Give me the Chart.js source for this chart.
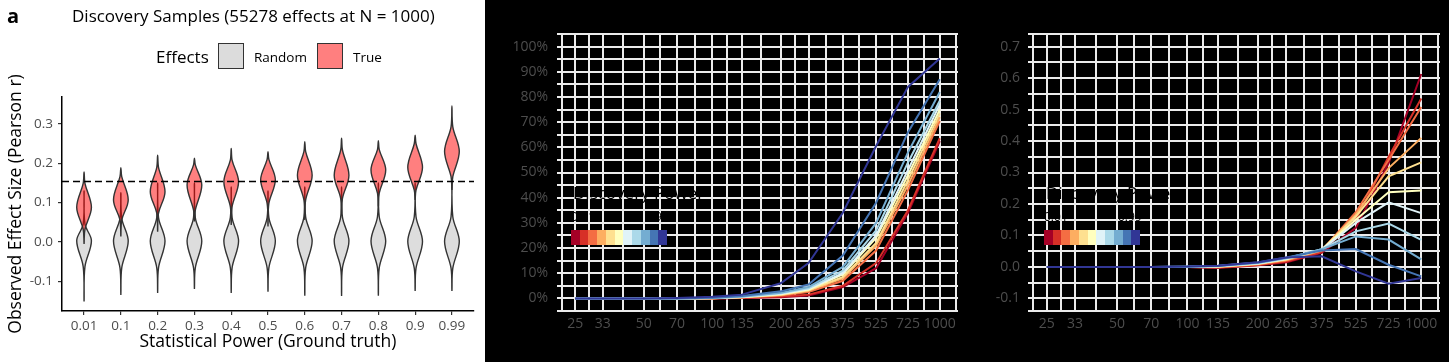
<!DOCTYPE html>
<html>
<head>
<meta charset="utf-8">
<script src="https://cdn.jsdelivr.net/npm/chart.js@4.4.0/dist/chart.umd.min.js"></script>
<style>
  body { margin: 0; width: 1449px; height: 362px; background: #000; position: relative; overflow: hidden;
         font-family: 'Open Sans', 'Noto Sans', sans-serif; }
  .panel { position: absolute; top: 0; height: 362px; }
  .txt { position: absolute; line-height: 1; white-space: nowrap; color: #000; }
  .swatch { position: absolute; box-sizing: border-box; border: 1.5px solid #333; width: 26px; height: 26px; top: 43px; }
  .bar { position: absolute; display: flex; height: 15px; top: 230px; width: 96px; }
  .bar span { flex: 1; }
</style>
</head>
<body>
<div class="panel" style="left:0;width:485px;background:#fff">
  <canvas id="violinChart" width="485" height="362"></canvas>
</div>
<div class="panel" style="left:485px;width:490px">
  <canvas id="powerChart" width="490" height="362"></canvas>
</div>
<div class="panel" style="left:975px;width:474px">
  <canvas id="effectChart" width="474" height="362"></canvas>
</div>

<div class="txt" style="left:7px;top:6px;font-size:20px;font-weight:bold">a</div>
<div class="txt" style="left:72px;top:7px;font-size:17px">Discovery Samples (55278 effects at N = 1000)</div>
<div class="txt" style="left:156px;top:48px;font-size:17px">Effects</div>
<div class="swatch" style="left:218px;background:#DCDCDC"></div>
<div class="txt" style="left:254px;top:51px;font-size:13.5px">Random</div>
<div class="swatch" style="left:317px;background:#FF7F7F"></div>
<div class="txt" style="left:353px;top:51px;font-size:13.5px">True</div>

<script>
// ---- data ----
const powerLevels = ['0.01', '0.1', '0.2', '0.3', '0.4', '0.5', '0.6', '0.7', '0.8', '0.9', '0.99'];
const powerColors = ['#A50026', '#D73027', '#F46D43', '#FDAE61', '#FEE090', '#FFFFBF',
                     '#E0F3F8', '#ABD9E9', '#74ADD1', '#4575B4', '#313695'];
const sampleSizes = [25, 33, 50, 70, 100, 135, 200, 265, 375, 525, 725, 1000];
const percentTicks = [0, 10, 20, 30, 40, 50, 60, 70, 80, 90, 100];
const effectTicks = [-0.1, 0, 0.1, 0.2, 0.3, 0.4, 0.5, 0.6, 0.7];
const violinTicks = [-0.1, 0, 0.1, 0.2, 0.3];
const threshold = 0.154;

// violins: true effects (red)
const trueMin  = [-0.005, 0.014, 0.026, 0.052, 0.043, 0.039, 0.056, 0.073, 0.090, 0.107, 0.132];
const trueLow  = [0.032, 0.056, 0.073, 0.081, 0.090, 0.098, 0.107, 0.111, 0.124, 0.132, 0.166];
const trueMode = [0.088, 0.107, 0.128, 0.145, 0.153, 0.158, 0.170, 0.170, 0.183, 0.190, 0.230];
const trueHigh = [0.149, 0.166, 0.190, 0.196, 0.208, 0.210, 0.230, 0.234, 0.235, 0.250, 0.293];
const trueMax  = [0.178, 0.189, 0.221, 0.213, 0.238, 0.230, 0.255, 0.264, 0.258, 0.272, 0.346];
// violins: random effects (grey)
const randMin  = [-0.152, -0.135, -0.130, -0.120, -0.130, -0.127, -0.137, -0.138, -0.137, -0.125, -0.125];
const randLow  = [-0.063, -0.066, -0.066, -0.066, -0.066, -0.066, -0.066, -0.066, -0.066, -0.067, -0.067];
const randMode = [0.003, 0.002, 0.002, 0.002, 0.002, 0.002, 0.002, 0.002, 0.002, 0.001, 0.001];
const randHigh = [0.045, 0.060, 0.062, 0.062, 0.062, 0.062, 0.063, 0.063, 0.064, 0.064, 0.064];
const randMax  = [0.130, 0.125, 0.150, 0.150, 0.140, 0.130, 0.140, 0.140, 0.150, 0.150, 0.160];

// replication rate (%) by discovery sample size, one array per power level
const rep001 = [0, 0, 0, 0, 0, 0.2, 0.5, 1.2, 4.5, 12, 34, 62.5];
const rep01  = [0, 0, 0, 0, 0, 0.3, 0.8, 1.5, 5, 14, 35, 63.6];
const rep02  = [0, 0, 0, 0, 0.1, 0.4, 1.2, 2.5, 7, 19, 43, 70.5];
const rep03  = [0, 0, 0, 0, 0.1, 0.5, 1.4, 3, 8, 21, 45, 72];
const rep04  = [0, 0, 0, 0, 0.1, 0.5, 1.5, 3.2, 8.5, 22, 47, 73.5];
const rep05  = [0, 0, 0, 0, 0.1, 0.6, 1.7, 3.5, 9.5, 24, 49, 75];
const rep06  = [0, 0, 0, 0, 0.2, 0.6, 1.8, 3.8, 10, 25, 51, 77];
const rep07  = [0, 0, 0, 0, 0.2, 0.7, 2, 4, 11, 27, 54, 78.5];
const rep08  = [0, 0, 0, 0, 0.2, 0.8, 2.2, 4.5, 12.5, 30, 58, 82];
const rep09  = [0, 0, 0, 0, 0.3, 1, 2.8, 5.5, 17, 38, 66, 87];
const rep099 = [0, 0, 0, 0.2, 0.7, 1.5, 6, 14, 34, 60.5, 84, 95.3];
const replicationRates = [rep001, rep01, rep02, rep03, rep04, rep05, rep06, rep07, rep08, rep09, rep099];

// effect size difference by discovery sample size
const eff001 = [0, 0, 0, 0, 0, -0.003, 0.005, 0.015, 0.045, 0.124, 0.33, 0.613];
const eff01  = [0, 0, 0, 0, 0, -0.002, 0.006, 0.017, 0.047, 0.150, 0.35, 0.535];
const eff02  = [0, 0, 0, 0, 0, -0.001, 0.008, 0.020, 0.052, 0.174, 0.34, 0.508];
const eff03  = [0, 0, 0, 0, 0, 0, 0.009, 0.022, 0.053, 0.166, 0.314, 0.41];
const eff04  = [0, 0, 0, 0, 0, 0.001, 0.010, 0.024, 0.054, 0.160, 0.288, 0.332];
const eff05  = [0, 0, 0, 0, 0, 0.001, 0.011, 0.025, 0.055, 0.150, 0.237, 0.243];
const eff06  = [0, 0, 0, 0, 0, 0.002, 0.011, 0.026, 0.055, 0.140, 0.205, 0.171];
const eff07  = [0, 0, 0, 0, 0, 0.002, 0.012, 0.027, 0.056, 0.113, 0.138, 0.086];
const eff08  = [0, 0, 0, 0, 0.001, 0.003, 0.013, 0.028, 0.056, 0.097, 0.087, 0.024];
const eff09  = [0, 0, 0, 0, 0.001, 0.004, 0.014, 0.030, 0.052, 0.057, 0.007, -0.030];
const eff099 = [0, 0, 0, 0, 0.001, 0.004, 0.015, 0.030, 0.034, -0.014, -0.053, -0.035];
const effectDiffs = [eff001, eff01, eff02, eff03, eff04, eff05, eff06, eff07, eff08, eff09, eff099];

// ---- shared style ----
Chart.defaults.font.family = "'Open Sans', 'Noto Sans', sans-serif";
const GRID = '#EBEBEB';
const TICK_GREY = '#4D4D4D';
const VIOLIN_HALF = 0.2;   // widest half-width in category units
const NECK = 0.12;         // neck half-width relative to widest

function violinPath(i, lo, low, mode, high, hi) {
    const w = VIOLIN_HALF, n = VIOLIN_HALF * NECK;
    return [
        {x: i, y: lo}, {x: i - n, y: low}, {x: i - w, y: mode}, {x: i - n, y: high}, {x: i, y: hi},
        {x: i + n, y: high}, {x: i + w, y: mode}, {x: i + n, y: low}, {x: i, y: lo}
    ];
}

function violinDataset(points, fillColor, order) {
    return {
        data: points,
        fill: 'shape',
        backgroundColor: fillColor,
        borderColor: '#333333',
        borderWidth: 1.4,
        tension: 0.35,
        pointRadius: 0,
        order: order
    };
}

// ---- left panel: violins ----
const X_MIN = -0.6, X_MAX = powerLevels.length - 0.4;
const violinSets = [];
powerLevels.forEach((p, i) => {
    violinSets.push(violinDataset(
        violinPath(i, randMin[i], randLow[i], randMode[i], randHigh[i], randMax[i]), '#DDDDDD', 3));
    violinSets.push(violinDataset(
        violinPath(i, trueMin[i], trueLow[i], trueMode[i], trueHigh[i], trueMax[i]), 'rgba(255,0,0,0.5)', 2));
});
violinSets.push({
    data: [{x: X_MIN, y: threshold}, {x: X_MAX, y: threshold}],
    borderColor: '#000',
    borderWidth: 1.5,
    borderDash: [7, 4],
    pointRadius: 0,
    fill: false,
    order: 1
});

new Chart(document.getElementById('violinChart'), {
    type: 'line',
    data: { datasets: violinSets },
    options: {
        responsive: false,
        animation: false,
        layout: { padding: { top: 97, right: 11, left: 0, bottom: 0 } },
        plugins: { legend: { display: false }, tooltip: { enabled: false } },
        scales: {
            x: {
                type: 'linear', min: X_MIN, max: X_MAX,
                afterBuildTicks: s => { s.ticks = powerLevels.map((_, i) => ({ value: i })); },
                afterFit: s => { s.height = 51; },
                ticks: { callback: v => powerLevels[v], color: TICK_GREY, font: { size: 13.5 },
                         padding: 3, autoSkip: false, maxRotation: 0 },
                grid: { drawOnChartArea: false, color: '#333', tickLength: 4, lineWidth: 1.2 },
                border: { color: '#000', width: 1.5 },
                title: { display: true, text: 'Statistical Power (Ground truth)', color: '#000',
                         font: { size: 17.5 }, padding: { top: 0, bottom: 9 } }
            },
            y: {
                min: -0.176, max: 0.369,
                afterBuildTicks: s => { s.ticks = violinTicks.map(v => ({ value: v })); },
                afterFit: s => { s.width = 62; },
                ticks: { callback: v => v.toFixed(1), color: TICK_GREY, font: { size: 13.5 }, padding: 5 },
                grid: { drawOnChartArea: false, color: '#333', tickLength: 4, lineWidth: 1.2 },
                border: { color: '#000', width: 1.5 },
                title: { display: true, text: 'Observed Effect Size (Pearson r)', color: '#000',
                         font: { size: 17.5 }, padding: { top: 6, bottom: 0 } }
            }
        }
    }
});

// ---- shared log axis for sample size ----
const logSpan = Math.log10(sampleSizes[sampleSizes.length - 1] / sampleSizes[0]);
const N_MIN = sampleSizes[0] / Math.pow(10, 0.05 * logSpan);
const N_MAX = sampleSizes[sampleSizes.length - 1] * Math.pow(10, 0.05 * logSpan);

function sampleGridValues() {
    const out = [];
    const n = sampleSizes.length;
    out.push(sampleSizes[0] / Math.sqrt(sampleSizes[1] / sampleSizes[0]));
    sampleSizes.forEach((v, i) => {
        out.push(v);
        if (i < n - 1) out.push(Math.sqrt(v * sampleSizes[i + 1]));
    });
    out.push(sampleSizes[n - 1] * Math.sqrt(sampleSizes[n - 1] / sampleSizes[n - 2]));
    return out;
}

function sampleAxis() {
    return {
        type: 'logarithmic', min: N_MIN, max: N_MAX,
        afterBuildTicks: s => { s.ticks = sampleGridValues().map(v => ({ value: v })); },
        afterFit: s => { s.height = 51; },
        ticks: { callback: v => sampleSizes.includes(v) ? String(v) : '', color: TICK_GREY,
                 font: { size: 14 }, padding: 5, autoSkip: false, maxRotation: 0, minRotation: 0 },
        grid: { color: GRID, lineWidth: 2, drawTicks: false },
        border: { display: false }
    };
}

function lineSets(valueArrays) {
    return valueArrays.map((vals, i) => ({
        data: sampleSizes.map((n, j) => ({ x: n, y: vals[j] })),
        borderColor: powerColors[i],
        borderWidth: 2,
        pointRadius: 0,
        tension: 0,
        fill: false,
        order: valueArrays.length - i
    }));
}

// ---- middle panel: replication rate ----
const pctGrid = [percentTicks[0] - 5];
percentTicks.forEach((v, i) => { pctGrid.push(v); pctGrid.push(v + 5); });

new Chart(document.getElementById('powerChart'), {
    type: 'line',
    data: { datasets: lineSets(replicationRates) },
    options: {
        responsive: false,
        animation: false,
        layout: { padding: { top: 34, right: 17, left: 0, bottom: 0 } },
        plugins: { legend: { display: false }, tooltip: { enabled: false } },
        scales: {
            x: sampleAxis(),
            y: {
                min: -5, max: 105,
                afterBuildTicks: s => { s.ticks = pctGrid.map(v => ({ value: v })); },
                afterFit: s => { s.width = 72; },
                ticks: { callback: v => percentTicks.includes(v) ? v + '%' : '', color: TICK_GREY,
                         font: { size: 14 }, padding: 9, autoSkip: false },
                grid: { color: GRID, lineWidth: 2, drawTicks: false },
                border: { display: false }
            }
        }
    }
});

// ---- right panel: effect size difference ----
const EFF_MIN = -0.14, EFF_MAX = 0.74;
const effGrid = [EFF_MIN];
effectTicks.forEach((v, i) => {
    effGrid.push(v);
    if (i < effectTicks.length - 1) effGrid.push((v + effectTicks[i + 1]) / 2);
});
effGrid.push(EFF_MAX);

new Chart(document.getElementById('effectChart'), {
    type: 'line',
    data: { datasets: lineSets(effectDiffs) },
    options: {
        responsive: false,
        animation: false,
        layout: { padding: { top: 34, right: 9, left: 0, bottom: 0 } },
        plugins: { legend: { display: false }, tooltip: { enabled: false } },
        scales: {
            x: sampleAxis(),
            y: {
                min: EFF_MIN, max: EFF_MAX,
                afterBuildTicks: s => { s.ticks = effGrid.map(v => ({ value: v })); },
                afterFit: s => { s.width = 53; },
                ticks: {
                    callback: v => effectTicks.some(t => Math.abs(t - v) < 1e-9) ? v.toFixed(1) : '',
                    color: TICK_GREY, font: { size: 14 }, padding: 8, autoSkip: false
                },
                grid: { color: GRID, lineWidth: 2, drawTicks: false },
                border: { display: false }
            }
        }
    }
});

// ---- colourbar legends (black text, as in the source) ----
function addText(text, left, top, size) {
    const d = document.createElement('div');
    d.className = 'txt';
    d.style.left = left + 'px';
    d.style.top = top + 'px';
    d.style.fontSize = size + 'px';
    d.textContent = text;
    document.body.appendChild(d);
}

function addColourLegend(left) {
    addText('Discovery Power', left + 2, 184, 17);
    addText(powerLevels[0], left, 211, 12);
    addText(powerLevels[powerLevels.length - 1], left + 74, 211, 12);
    const bar = document.createElement('div');
    bar.className = 'bar';
    bar.style.left = left + 'px';
    powerColors.forEach(c => {
        const s = document.createElement('span');
        s.style.background = c;
        bar.appendChild(s);
    });
    document.body.appendChild(bar);
}

addColourLegend(571);
addColourLegend(1044);
</script>
</body>
</html>
